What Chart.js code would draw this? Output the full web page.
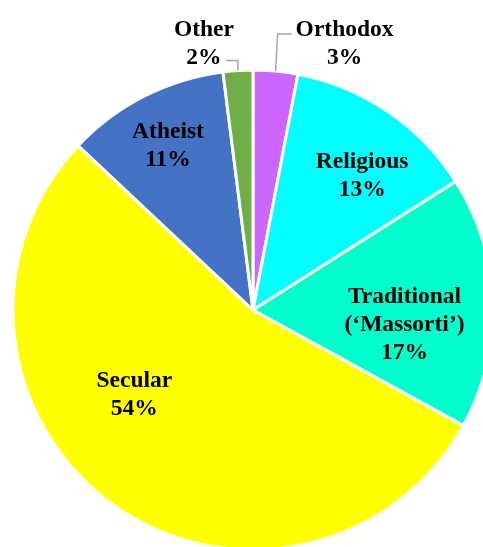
<!DOCTYPE html>
<html>
<head>
<meta charset="utf-8">
<title>Religious identity</title>
<script src="https://cdn.jsdelivr.net/npm/chart.js"></script>
<style>
  html, body { margin: 0; padding: 0; background: #fff; width: 483px; height: 547px; overflow: hidden; }
  canvas { display: block; }
</style>
</head>
<body>
<canvas id="pie" width="520" height="600"></canvas>
<script>
// slices clockwise from 12 o'clock
const categories = ['Orthodox', 'Religious', 'Traditional', 'Secular', 'Atheist', 'Other'];
const labelLines = [['Orthodox'], ['Religious'], ['Traditional', '(\u2018Massorti\u2019)'], ['Secular'], ['Atheist'], ['Other']];
const shares = [3, 13, 17, 54, 11, 2];
const colors = ['#CC66FF', '#00FFFF', '#00FFCC', '#FFFF00', '#4472C4', '#70AD47'];

// label placement: inside labels sit at a fraction of the radius on the mid angle,
// the two thin slices get leader lines going up from the rim
const placement = [
  { outside: true, elbow: [2, -37], end: [16, -37], text: [69, -27] },
  { f: 0.72, dx: 12, dy: 9 },
  { f: 0.64, dx: -2, dy: 20 },
  { f: 0.60, dx: -34, dy: -32 },
  { f: 0.78, dx: 0, dy: 3 },
  { outside: true, elbow: [0, -10], end: [-12, -10], text: [-34, -27] }
];

const FONT = 'bold 23.5px "Liberation Serif", "Times New Roman", serif';
const LINE_H = 28;

const pieLabels = {
  id: 'pieLabels',
  afterDatasetsDraw(chart) {
    const ctx = chart.ctx;
    const arcs = chart.getDatasetMeta(0).data;
    ctx.save();
    ctx.font = FONT;
    ctx.fillStyle = '#000';
    ctx.textAlign = 'center';
    ctx.textBaseline = 'middle';
    arcs.forEach((arc, i) => {
      const p = placement[i];
      const mid = (arc.startAngle + arc.endAngle) / 2;
      const lines = labelLines[i].concat([shares[i] + '%']);
      let cx, cy;
      if (p.outside) {
        const ex = arc.x + Math.cos(mid) * arc.outerRadius;
        const ey = arc.y + Math.sin(mid) * arc.outerRadius;
        ctx.strokeStyle = '#A6A6A6';
        ctx.lineWidth = 1.5;
        ctx.beginPath();
        ctx.moveTo(ex, ey);
        ctx.lineTo(ex + p.elbow[0], ey + p.elbow[1]);
        ctx.lineTo(ex + p.end[0], ey + p.end[1]);
        ctx.stroke();
        cx = ex + p.text[0];
        cy = ey + p.text[1];
      } else {
        const r = arc.outerRadius * p.f;
        cx = arc.x + Math.cos(mid) * r + p.dx;
        cy = arc.y + Math.sin(mid) * r + p.dy;
      }
      const top = cy - (lines.length - 1) * LINE_H / 2;
      lines.forEach((t, k) => ctx.fillText(t, cx, top + k * LINE_H));
    });
    ctx.restore();
  }
};

new Chart(document.getElementById('pie'), {
  type: 'pie',
  data: {
    labels: categories,
    datasets: [{
      data: shares,
      backgroundColor: colors,
      borderColor: '#FFFFFF',
      borderWidth: 3
    }]
  },
  options: {
    responsive: false,
    animation: false,
    radius: 240,
    layout: { padding: { left: 13, right: 27, top: 70, bottom: 50 } },
    plugins: {
      legend: { display: false },
      tooltip: { enabled: false }
    }
  },
  plugins: [pieLabels]
});
</script>
</body>
</html>
